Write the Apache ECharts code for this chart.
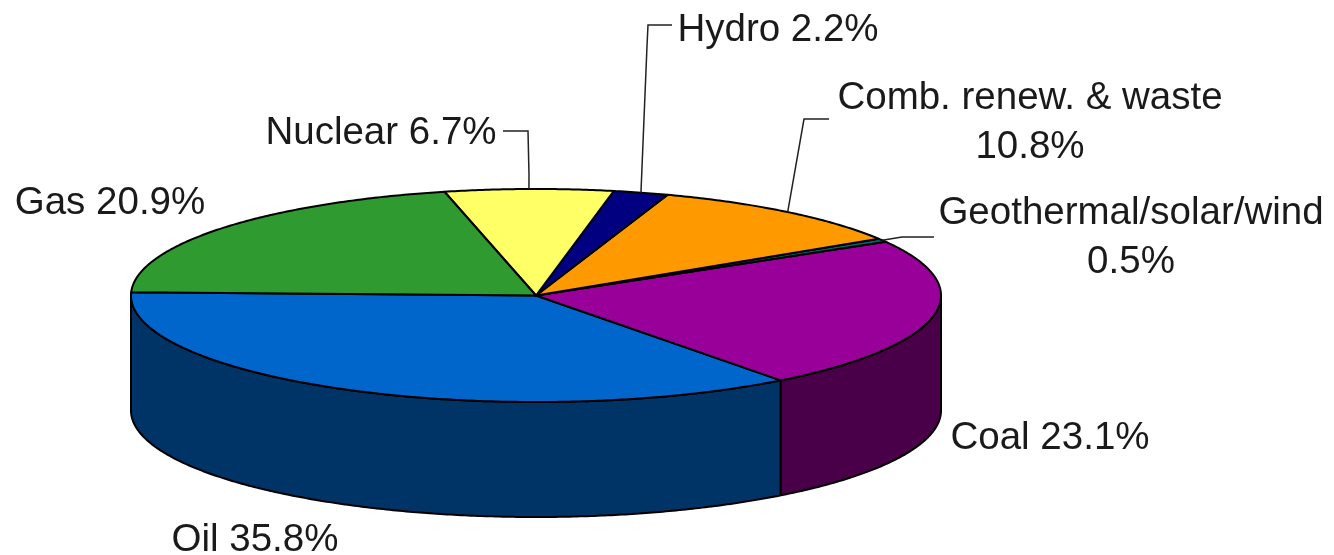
<!DOCTYPE html>
<html>
<head>
<meta charset="utf-8">
<style>
  html, body { margin: 0; padding: 0; background: #fff; }
  #chart { width: 1334px; height: 555px; }
</style>
<script src="https://cdn.jsdelivr.net/npm/echarts@6/dist/echarts.min.js"></script>
</head>
<body>
<div id="chart"></div>
<script>
const sources = ['Oil', 'Coal', 'Geothermal/solar/wind', 'Comb. renew. & waste', 'Hydro', 'Nuclear', 'Gas'];
const shares = [35.8, 23.1, 0.5, 10.8, 2.2, 6.7, 20.9];

const topColors = ['#0066cc', '#990099', '#006666', '#ff9900', '#000080', '#ffff66', '#2f9a2f'];
const wallColors = ['#003366', '#4a0048', '#003333', '#804c00', '#000040', '#808033', '#174d17'];

// label placement in page pixels: [centre x, first line middle y]
const labelPos = [
    [255, 538], [1050, 436], [1131, 211], [1030, 96], [778, 28], [381, 131], [110, 201]
];
const wrapped = [false, false, true, true, false, false, false];
// leader elbows in page pixels, going from the rim out to the label
const leaderBends = [
    null, null,
    [[902, 237], [934, 237]],
    [[804, 119], [829, 119]],
    [[647, 46], [648, 25], [672, 25]],
    [[529, 175], [528, 131], [503, 131]],
    null
];

const startAngle = 178.3;
// wall height, in units of the ellipse's vertical radius
const depth = 115 / 106.5;

const total = shares.reduce((a, b) => a + b, 0);
let cursor = startAngle;
const sliceRows = shares.map((v, i) => {
    const from = cursor;
    cursor += v / total * 360;
    return [i, from, cursor];
});

const rad = d => d * Math.PI / 180;
const arc = (from, to, yShift) => {
    const pts = [];
    const n = Math.max(2, Math.ceil((to - from) * 2));
    for (let k = 0; k <= n; k++) {
        const a = rad(from + (to - from) * k / n);
        pts.push([Math.cos(a), Math.sin(a) + yShift]);
    }
    return pts;
};

const renderWall = (params, api) => {
    const i = api.value(0);
    const from = Math.max(api.value(1), 180);
    const to = Math.min(api.value(2), 360);
    if (to <= from) return null;
    const pts = arc(from, to, 0).concat(arc(from, to, -depth).reverse());
    return {
        type: 'polygon',
        shape: { points: pts.map(p => api.coord(p)) },
        style: { fill: wallColors[i], stroke: '#000', lineWidth: 2, lineJoin: 'round' }
    };
};

const renderTop = (params, api) => {
    const i = api.value(0);
    const pts = [[0, 0]].concat(arc(api.value(1), api.value(2), 0));
    return {
        type: 'polygon',
        shape: { points: pts.map(p => api.coord(p)) },
        style: { fill: topColors[i], stroke: '#000', lineWidth: 2, lineJoin: 'round' }
    };
};

const renderLeader = (params, api) => {
    const i = api.value(0);
    if (!leaderBends[i]) return null;
    const mid = rad((api.value(1) + api.value(2)) / 2);
    const rim = api.coord([Math.cos(mid), Math.sin(mid)]);
    return {
        type: 'polyline',
        shape: { points: [rim].concat(leaderBends[i]) },
        style: { fill: null, stroke: '#222', lineWidth: 1.5 }
    };
};

const labelTexts = sources.map((s, i) => s + (wrapped[i] ? '\n' : ' ') + shares[i].toFixed(1) + '%');

const chart = echarts.init(document.getElementById('chart'));
chart.setOption({
    animation: false,
    backgroundColor: '#fff',
    grid: { left: 131, top: 189, width: 810, height: 213 + 115 },
    xAxis: { type: 'value', min: -1, max: 1, show: false },
    yAxis: { type: 'value', min: -1 - depth, max: 1, show: false },
    series: [
        { type: 'custom', coordinateSystem: 'cartesian2d', data: sliceRows, renderItem: renderWall, z: 1, silent: true },
        { type: 'custom', coordinateSystem: 'cartesian2d', data: sliceRows, renderItem: renderTop, z: 2, silent: true },
        { type: 'custom', coordinateSystem: 'cartesian2d', data: sliceRows, renderItem: renderLeader, z: 3, silent: true }
    ],
    graphic: labelTexts.map((t, i) => ({
        type: 'text',
        x: labelPos[i][0],
        y: labelPos[i][1] - 22,
        silent: true,
        style: {
            text: t,
            font: '38.5px "Liberation Sans", Arial, sans-serif',
            fill: '#1a1a1a',
            align: 'center',
            verticalAlign: 'top',
            lineHeight: 49
        }
    }))
});
</script>
</body>
</html>
